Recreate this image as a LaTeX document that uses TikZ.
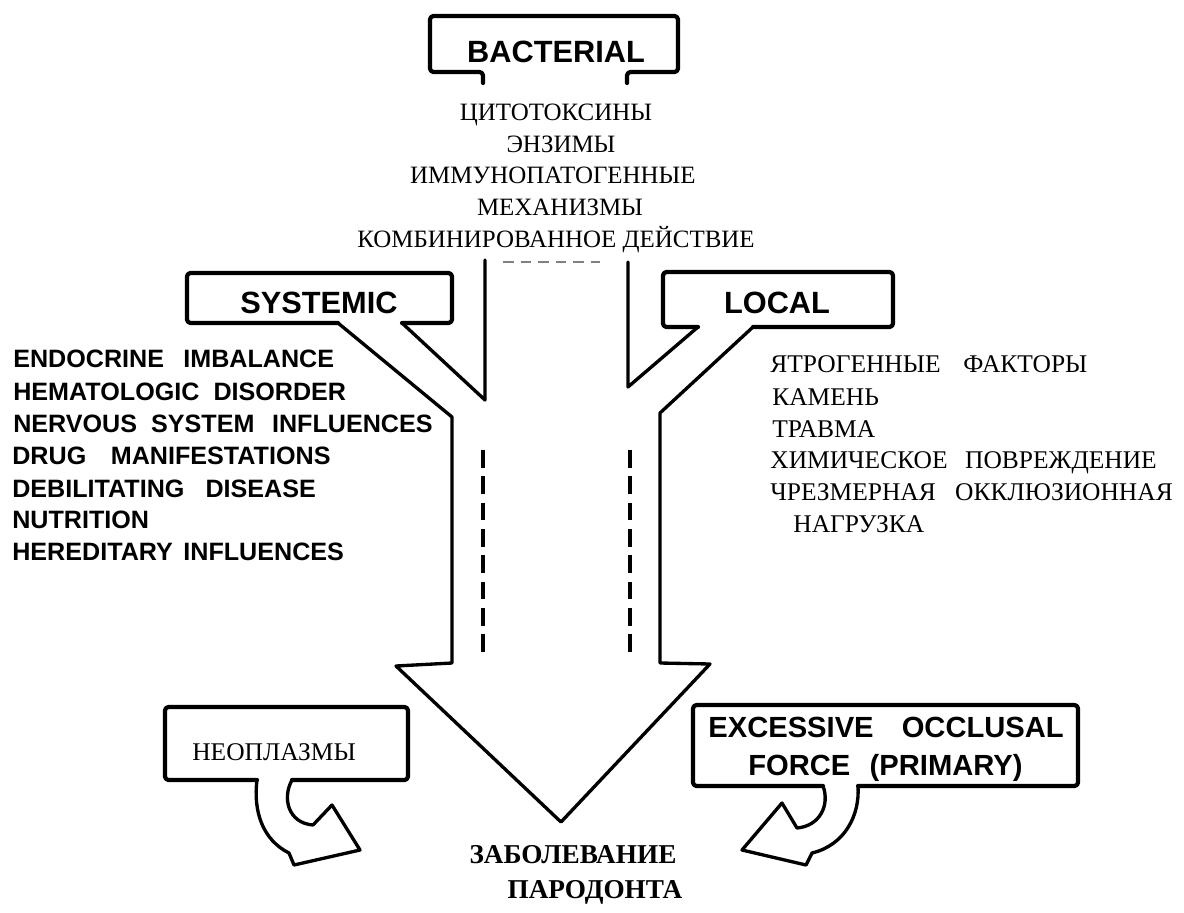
\documentclass[tikz,border=0pt]{standalone}
\usepackage{fontspec}
\setmainfont{Liberation Serif}
\newfontfamily\hv{Liberation Sans}
\begin{document}
\begin{tikzpicture}[x=0.02cm,y=-0.02cm,
  outl/.style={line width=1.9pt,line join=round,line cap=round},
  boxl/.style={line width=2.4pt,line join=round,line cap=round,rounded corners=2pt},
  title/.style={font=\hv\bfseries\fontsize{17.5}{20}\selectfont,inner sep=0pt,anchor=base},
  ru/.style={font=\fontsize{14.2}{16}\selectfont,inner sep=0pt,anchor=base},
  rul/.style={font=\fontsize{14.5}{16}\selectfont,inner sep=0pt,anchor=base west},
  en/.style={font=\hv\bfseries\fontsize{14.3}{16}\selectfont,inner sep=0pt,anchor=base west},
  big/.style={font=\hv\bfseries\fontsize{16.6}{19}\selectfont,inner sep=0pt,anchor=base west},
  res/.style={font=\bfseries\fontsize{15.5}{18}\selectfont,inner sep=0pt,anchor=base},
  dsh/.style={line width=1.9pt,dash pattern=on 10pt off 5pt},
]
\useasboundingbox (0,0) rectangle (1184,913);

% BACTERIAL box
\draw[boxl] (483,83) -- (483,72) -- (430,72) -- (430,16) -- (678,16) -- (678,72) -- (627,72) -- (627,83);
\node[title] (bact) at (556,62) {BACTERIAL};

% bacterial factors
\node[ru] (b1) at (556,120) {ЦИТОТОКСИНЫ};
\node[ru] (b2) at (561,152) {ЭНЗИМЫ};
\node[ru] (b3) at (553,183) {ИММУНОПАТОГЕННЫЕ};
\node[ru] (b4) at (560,215) {МЕХАНИЗМЫ};
\node[ru] (b5) at (556,247) {КОМБИНИРОВАННОЕ ДЕЙСТВИЕ};
\draw[gray,line width=0.8pt,dash pattern=on 6pt off 4pt] (503,262) -- (600,262);

% main outline with systemic and local callouts
\draw[outl] (485,260) -- (485,400) -- (402,323);
\draw[boxl] (402,323) -- (452,323) -- (452,273) -- (187,273) -- (187,323) -- (338,323);
\draw[outl] (338,323) -- (452,417) -- (452,663) -- (396,666) -- (561,822) -- (710,664) -- (660,663) -- (660,413) -- (753,327);
\draw[boxl] (753,327) -- (893,327) -- (893,272) -- (663,272) -- (663,327) -- (698,327);
\draw[outl] (698,327) -- (628,387) -- (628,262);
\node[title] (sys) at (319,313) {SYSTEMIC};
\node[title] (loc) at (777,313) {LOCAL};

% dashed inner lines
\draw[dsh] (483,450) -- (483,657);
\draw[dsh] (630,450) -- (630,657);

% systemic list
\node[en] (s1) at (13,367) {ENDOCRINE\hspace{11pt}IMBALANCE};
\node[en] (s2) at (13,400) {HEMATOLOGIC\hspace{8pt}DISORDER};
\node[en] (s3) at (13,432) {NERVOUS\hspace{8pt}SYSTEM\hspace{10pt}INFLUENCES};
\node[en] (s4) at (12,464) {DRUG\hspace{14pt}MANIFESTATIONS};
\node[en] (s5) at (12,497) {DEBILITATING\hspace{12pt}DISEASE};
\node[en] (s6) at (12,528) {NUTRITION};
\node[en] (s7) at (12,560) {HEREDITARY\hspace{6pt}INFLUENCES};

% local list
\node[rul] (l1) at (770,372) {ЯТРОГЕННЫЕ\hspace{13pt}ФАКТОРЫ};
\node[rul] (l2) at (772,405) {КАМЕНЬ};
\node[rul] (l3) at (772,437) {ТРАВМА};
\node[rul] (l4) at (770,468) {ХИМИЧЕСКОЕ\hspace{10pt}ПОВРЕЖДЕНИЕ};
\node[rul] (l5) at (770,500) {ЧРЕЗМЕРНАЯ\hspace{11pt}ОККЛЮЗИОННАЯ};
\node[rul] (l6) at (793,532) {НАГРУЗКА};

% neoplasm box with hooked arrow
\draw[boxl] (257,780) -- (165,780) -- (165,707) -- (408,707) -- (408,780) -- (292,780);
\node[rul] (neo) at (192,760) {НЕОПЛАЗМЫ};
\draw[outl] (292,780) .. controls (282,798) and (288,823) .. (313,825) -- (332,805) -- (360,850) -- (294,865) -- (289,853)
  .. controls (263,840) and (253,812) .. (257,780);

% excessive occlusal force box with hooked arrow
\draw[boxl] (858,786) -- (1078,786) -- (1078,705) -- (693,705) -- (693,786) -- (823,786);
\node[big] (exc1) at (708,737) {EXCESSIVE\hspace{16pt}OCCLUSAL};
\node[big] (exc2) at (748,775) {FORCE\hspace{11pt}(PRIMARY)};
\draw[outl] (823,786) .. controls (830,805) and (820,826) .. (797,828) -- (782,803) -- (742,850) -- (806,865) -- (812,853)
  .. controls (845,845) and (860,815) .. (858,786);

% result
\node[res] (r1) at (573,863) {ЗАБОЛЕВАНИЕ};
\node[res] (r2) at (595,898) {ПАРОДОНТА};
\end{tikzpicture}
\end{document}
